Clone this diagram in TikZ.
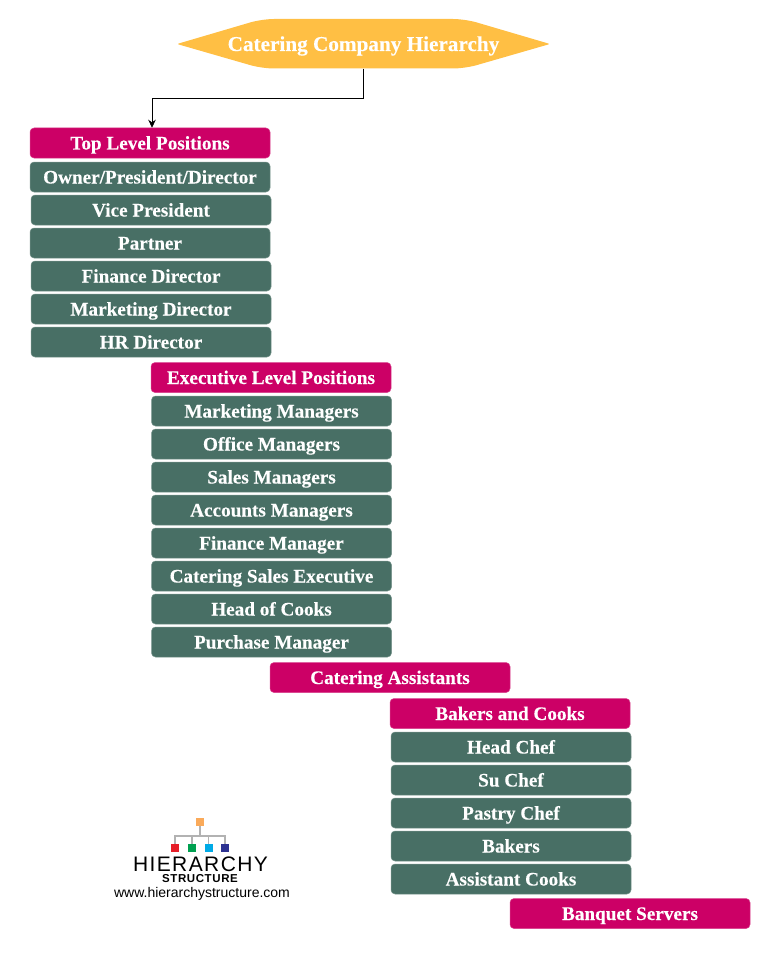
\documentclass[tikz,border=0pt]{standalone}
\usepackage{fontspec}
\setmainfont[BoldFeatures={FakeBold=0.25}]{Liberation Serif}
\setsansfont{Liberation Sans}
\usetikzlibrary{arrows.meta,positioning,calc}
\definecolor{hdrpink}{RGB}{204,0,102}
\definecolor{itemgreen}{RGB}{72,111,101}
\definecolor{titleamber}{RGB}{255,191,68}
\tikzset{
  hdr/.style={fill=hdrpink,draw=hdrpink!75!white,line width=0.5pt,rounded corners=4pt,minimum width=240pt,minimum height=30pt,inner sep=0pt,text height=13pt,text depth=0pt,text=white,font=\fontsize{19.2}{20}\selectfont\bfseries},
  item/.style={hdr,fill=itemgreen,draw=itemgreen!75!white},
  sqbox/.style={minimum size=8pt,inner sep=0pt},
  logoline/.style={gray!60,line width=1.2pt}
}
\begin{document}
\begin{tikzpicture}[x=1pt,y=-1pt]
  \useasboundingbox (0,0) rectangle (782,963);
  % title
  \fill[titleamber,rounded corners=2pt] (177,44) [rounded corners=12pt] -- (262,19) -- (465,19) [rounded corners=2pt] -- (550,44) [rounded corners=12pt] -- (465,68.5) -- (262,68.5) [rounded corners=2pt] -- cycle;
  \node[text=white,font=\fontsize{21.2}{22}\selectfont\bfseries,text height=14.5pt,text depth=0pt,minimum width=371pt,minimum height=49.5pt,inner sep=0pt] (title) at (363.5,43.75) {Catering Company Hierarchy};
  % top level
  \node[hdr] (toplevel) at (150,143) {Top Level Positions};
  \foreach \n/\x/\y/\t in {a/150/177/Owner\slash President\slash Director,b/151/210/Vice President,c/150/243/Partner,d/151/276/Finance Director,e/151/309/Marketing Director,f/151/342/HR Director}
    \node[item] (top\n) at (\x,\y) {\t};
  % executive level
  \node[hdr] (execlevel) at (271,377.5) {Executive Level Positions};
  \foreach \n/\y/\t in {a/411/Marketing Managers,b/444/Office Managers,c/477/Sales Managers,d/510/Accounts Managers,e/543/Finance Manager,f/576/Catering Sales Executive,g/609/Head of Cooks,h/642/Purchase Manager}
    \node[item] (exec\n) at (271.5,\y) {\t};
  % assistants, cooks, servers
  \node[hdr] (assistants) at (390,677.5) {Catering Assistants};
  \node[hdr] (bakers) at (510,713.5) {Bakers and Cooks};
  \foreach \n/\y/\t in {a/747/Head Chef,b/780/Su Chef,c/813/Pastry Chef,d/846/Bakers,e/879/Assistant Cooks}
    \node[item] (cook\n) at (511,\y) {\t};
  \node[hdr] (servers) at (630,913.5) {Banquet Servers};
  % connector
  \draw[-{Stealth[length=8pt,width=7.5pt]},line width=0.7pt] (title.south) -- ++(0,30) -| ([xshift=2pt]toplevel.north);
  % logo
  \node[sqbox,fill={rgb,255:red,250;green,170;blue,90}] (logotop) at (200,822) {};
  \node[sqbox,fill={rgb,255:red,230;green,30;blue,40}] (logoa) at (175,848) {};
  \node[sqbox,fill={rgb,255:red,0;green,160;blue,80}] (logob) at (192,848) {};
  \node[sqbox,fill={rgb,255:red,0;green,170;blue,230}] (logoc) at (208.5,848) {};
  \node[sqbox,fill={rgb,255:red,45;green,50;blue,145}] (logod) at (225,848) {};
  \coordinate (logobus) at (200,836);
  \draw[logoline] (logotop) -- (logobus);
  \foreach \n in {a,b,c,d} \draw[logoline] (logobus) -| (logo\n);
  \node[font=\sffamily\fontsize{21}{22}\selectfont,inner sep=0pt,text height=15pt,text depth=0pt] (logoname) at (200.5,863.5) {H\kern1.4pt I\kern1.4pt E\kern1.4pt R\kern1.4pt A\kern1.4pt R\kern1.4pt C\kern1.4pt H\kern1.4pt Y};
  \node[font=\sffamily\bfseries\fontsize{11.5}{12}\selectfont,inner sep=0pt,text height=8.5pt,text depth=0pt] (logosub) at (200,878) {S\kern.6pt T\kern.6pt R\kern.6pt U\kern.6pt C\kern.6pt T\kern.6pt U\kern.6pt R\kern.6pt E};
  \node[font=\sffamily\fontsize{14}{16}\selectfont,inner sep=0pt] (logourl) at (202,893.5) {www.hierarchystructure.com};
\end{tikzpicture}
\end{document}
